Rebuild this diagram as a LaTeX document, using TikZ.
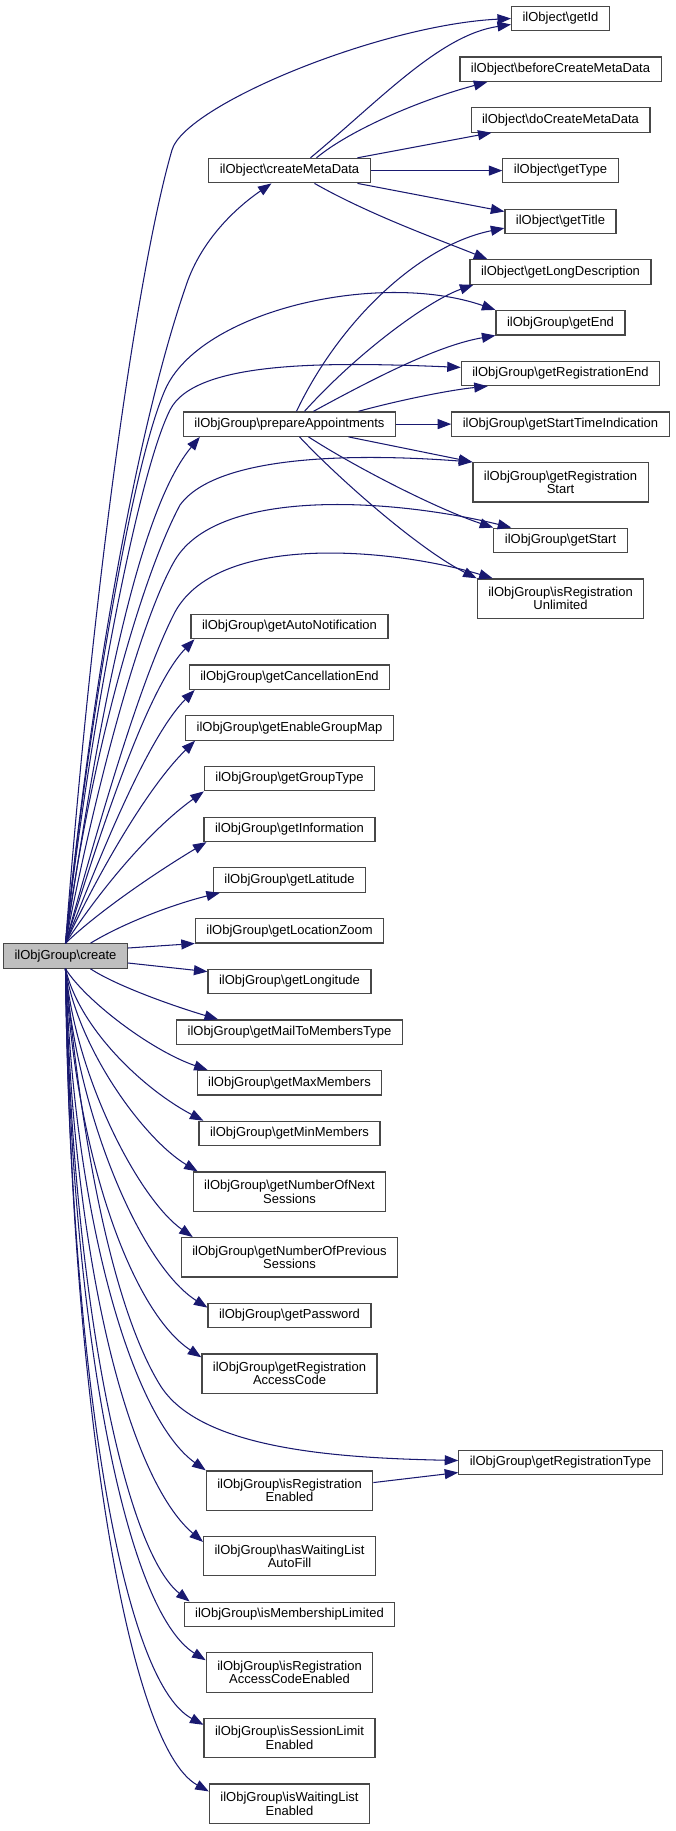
\documentclass[tikz,border=0pt]{standalone}
\usepackage{fontspec}
\setmainfont{Liberation Sans}
\usetikzlibrary{arrows.meta,positioning}
\definecolor{callblue}{HTML}{191970}
\newcommand{\bsl}{\textbackslash}

\begin{document}
\begin{tikzpicture}[x=1pt, y=-1pt,
  fn/.style={draw=black!72, fill=white, line width=1.2pt, align=center,
    font=\fontsize{13}{13.5}\selectfont, inner xsep=11pt, inner ysep=4pt,
    minimum height=24.4pt},
  two/.style={minimum height=39.3pt},
  edge/.style={-{Triangle[length=13.5pt,width=10pt]}, draw=callblue,
    line width=1.05pt},
  node distance=25.1pt
]
\useasboundingbox (0,0) rectangle (675,1831);
\coordinate (midx) at (289.5,0);

% right column
\node[fn] (gid) at (560.5,18.5) {ilObject\bsl getId};
\node[fn, below=of gid] (bcmd) {ilObject\bsl beforeCreateMetaData};
\node[fn, below=of bcmd] (dcmd) {ilObject\bsl doCreateMetaData};
\node[fn, below=of dcmd] (gty) {ilObject\bsl getType};
\node[fn, below=of gty] (gti) {ilObject\bsl getTitle};
\node[fn, below=of gti] (gld) {ilObject\bsl getLongDescription};
\node[fn, below=of gld] (gend) {ilObjGroup\bsl getEnd};
\node[fn, below=of gend] (gre) {ilObjGroup\bsl getRegistrationEnd};
\node[fn, below=of gre] (gsti) {ilObjGroup\bsl getStartTimeIndication};
\node[fn, two, below=of gsti] (grs) {ilObjGroup\bsl getRegistration\\Start};
\node[fn, below=of grs] (gst) {ilObjGroup\bsl getStart};
\node[fn, two, below=of gst] (iru) {ilObjGroup\bsl isRegistration\\Unlimited};
\node[fn] (grt) at (560.5,1462.5) {ilObjGroup\bsl getRegistrationType};

% middle column
\node[fn] (cmd) at (midx |- gty) {ilObject\bsl createMetaData};
\node[fn] (pa) at (midx |- gsti) {ilObjGroup\bsl prepareAppointments};
\node[fn] (gan) at (289.5,626.5) {ilObjGroup\bsl getAutoNotification};
\node[fn, below=of gan] (gce) {ilObjGroup\bsl getCancellationEnd};
\node[fn, below=of gce] (gegm) {ilObjGroup\bsl getEnableGroupMap};
\node[fn, below=of gegm] (ggt) {ilObjGroup\bsl getGroupType};
\node[fn, below=of ggt] (ginf) {ilObjGroup\bsl getInformation};
\node[fn, below=of ginf] (glat) {ilObjGroup\bsl getLatitude};
\node[fn, below=of glat] (glz) {ilObjGroup\bsl getLocationZoom};
\node[fn, below=of glz] (glon) {ilObjGroup\bsl getLongitude};
\node[fn, below=of glon] (gmtm) {ilObjGroup\bsl getMailToMembersType};
\node[fn, below=of gmtm] (gmax) {ilObjGroup\bsl getMaxMembers};
\node[fn, below=of gmax] (gmin) {ilObjGroup\bsl getMinMembers};
\node[fn, two, below=of gmin] (gnns) {ilObjGroup\bsl getNumberOfNext\\Sessions};
\node[fn, two, below=of gnns] (gnps) {ilObjGroup\bsl getNumberOfPrevious\\Sessions};
\node[fn, below=of gnps] (gpw) {ilObjGroup\bsl getPassword};
\node[fn, two, below=of gpw] (grac) {ilObjGroup\bsl getRegistration\\AccessCode};
\node[fn, two, below=76.5pt of grac] (ire) {ilObjGroup\bsl isRegistration\\Enabled};
\node[fn, two, below=of ire] (hwl) {ilObjGroup\bsl hasWaitingList\\AutoFill};
\node[fn, below=of hwl] (iml) {ilObjGroup\bsl isMembershipLimited};
\node[fn, two, below=of iml] (irac) {ilObjGroup\bsl isRegistration\\AccessCodeEnabled};
\node[fn, two, below=of irac] (isl) {ilObjGroup\bsl isSessionLimit\\Enabled};
\node[fn, two, below=of isl] (iwl) {ilObjGroup\bsl isWaitingList\\Enabled};

% the caller
\node[fn, fill=black!25] (cr) at (65.5,956) {ilObjGroup\bsl create};

% create -> upper part
\draw[edge] (cr.north) .. controls (95,560) and (140,260) .. (172,150) .. controls (185,105) and (380,25) .. (gid.west);
\draw[edge] (cr.north) .. controls (90,700) and (135,430) .. (188,280) .. controls (205,235) and (240,205) .. ([xshift=-18pt]cmd.south);
\draw[edge] (cr.north) .. controls (85,750) and (130,470) .. (165,390) .. controls (200,310) and (380,270) .. (gend.north west);
\draw[edge] (cr.north) .. controls (85,760) and (135,480) .. (170,410) .. controls (195,360) and (330,362) .. ([yshift=6pt]gre.west);
\draw[edge] (cr.north) .. controls (90,780) and (130,520) .. ([xshift=17pt]pa.south west);
\draw[edge] (cr.north) .. controls (90,760) and (140,580) .. (180,505) .. controls (220,450) and (380,455) .. (grs.north west);
\draw[edge] (cr.north) .. controls (95,790) and (140,620) .. (175,560) .. controls (220,485) and (400,500) .. ([xshift=18pt]gst.north west);
\draw[edge] (cr.north) .. controls (100,820) and (140,680) .. (175,612) .. controls (220,530) and (400,550) .. ([xshift=16pt]iru.north west);

% create -> middle column, above
\draw[edge] (cr.north) .. controls (95,850) and (145,690) .. ([xshift=4pt]gan.south west);
\draw[edge] (cr.north) .. controls (95,870) and (145,740) .. ([xshift=6pt]gce.south west);
\draw[edge] (cr.north) .. controls (95,880) and (145,790) .. ([xshift=10pt]gegm.south west);
\draw[edge] (cr.north) .. controls (100,890) and (150,830) .. (ggt.south west);
\draw[edge] (cr.north) .. controls (100,910) and (160,870) .. ([xshift=3pt]ginf.south west);
\draw[edge] ([xshift=25pt]cr.north) .. controls (120,925) and (170,905) .. ([xshift=7pt]glat.south west);
\draw[edge] ([yshift=8pt]cr.east) -- (glz.south west);
\draw[edge] ([yshift=-7pt]cr.east) -- ([yshift=-3pt]glon.north west);

% create -> middle column, below
\draw[edge] ([xshift=25pt]cr.south) .. controls (115,985) and (170,1005) .. ([xshift=42pt]gmtm.north west);
\draw[edge] (cr.south) .. controls (85,1000) and (150,1050) .. ([xshift=11pt]gmax.north west);
\draw[edge] (cr.south) .. controls (80,1030) and (145,1090) .. ([xshift=5pt]gmin.north west);
\draw[edge] (cr.south) .. controls (78,1050) and (145,1140) .. ([xshift=5pt]gnns.north west);
\draw[edge] (cr.south) .. controls (76,1080) and (140,1200) .. ([xshift=12pt]gnps.north west);
\draw[edge] (cr.south) .. controls (75,1110) and (140,1265) .. ([yshift=-5pt]gpw.north west);
\draw[edge] (cr.south) .. controls (75,1150) and (130,1310) .. ([yshift=-4pt]grac.north west);
\draw[edge] (cr.south) .. controls (85,1180) and (120,1320) .. (160,1385) .. controls (200,1450) and (340,1458) .. ([yshift=2pt]grt.west);
\draw[edge] (cr.south) .. controls (75,1230) and (135,1420) .. (ire.north west);
\draw[edge] (cr.south) .. controls (73,1270) and (130,1480) .. ([yshift=-6pt]hwl.north west);
\draw[edge] (cr.south) .. controls (72,1300) and (125,1550) .. ([xshift=6pt]iml.north west);
\draw[edge] (cr.south) .. controls (71,1330) and (125,1610) .. ([yshift=-8pt]irac.north west);
\draw[edge] (cr.south) .. controls (70,1360) and (120,1680) .. ([yshift=-7pt]isl.north west);
\draw[edge] (cr.south) .. controls (70,1380) and (125,1745) .. ([yshift=-8pt]iwl.north west);

% createMetaData
\draw[edge] ([xshift=21pt]cmd.north) .. controls (380,100) and (440,35) .. ([yshift=-6pt]gid.west);
\draw[edge] ([xshift=27pt]cmd.north) .. controls (350,130) and (420,100) .. ([xshift=28pt]bcmd.south west);
\draw[edge] ([xshift=68pt]cmd.north) -- ([xshift=21pt]dcmd.south west);
\draw[edge] (cmd.east) -- (gty.west);
\draw[edge] ([xshift=68pt]cmd.south) -- ([yshift=-3pt]gti.north west);
\draw[edge] ([xshift=25pt]cmd.south) .. controls (370,215) and (440,240) .. ([xshift=18pt]gld.north west);

% prepareAppointments
\draw[edge] ([xshift=7pt]pa.north) .. controls (340,320) and (420,245) .. ([yshift=6pt]gti.south west);
\draw[edge] ([xshift=15pt]pa.north) .. controls (360,350) and (430,300) .. ([xshift=4pt]gld.south west);
\draw[edge] ([xshift=24pt]pa.north) .. controls (380,375) and (440,345) .. (gend.south west);
\draw[edge] ([xshift=69pt]pa.north) .. controls (400,400) and (450,390) .. ([xshift=27pt]gre.south west);
\draw[edge] (pa.east) -- (gsti.west);
\draw[edge] ([xshift=59pt]pa.south) -- (grs.north west);
\draw[edge] ([xshift=19pt]pa.south) .. controls (360,470) and (440,510) .. (gst.north west);
\draw[edge] ([xshift=10pt]pa.south) .. controls (340,480) and (420,550) .. (iru.north west);

% isRegistrationEnabled
\draw[edge] ([yshift=8pt]ire.east) -- ([yshift=-10pt]grt.west);
\end{tikzpicture}
\end{document}
